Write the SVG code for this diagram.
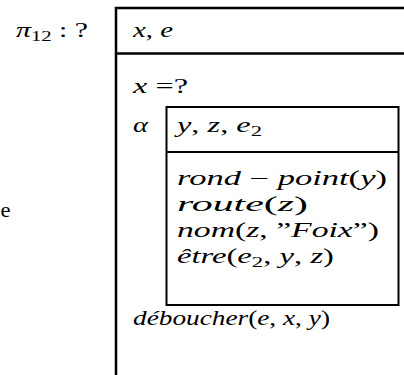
<svg xmlns="http://www.w3.org/2000/svg" width="404" height="375" viewBox="0 0 404 375">
<style>
.t{font-family:"Liberation Serif","Times New Roman",serif;font-size:20px;fill:#000}
.i{font-style:italic}
.s{font-size:14px}
.ln{stroke:#000;fill:none}
</style>
<rect width="404" height="375" fill="#fff"/>
<g id="outer-box">
<path class="ln" stroke-width="2.5" d="M116 375V8H404M116 53.5H404"/>
</g>
<g id="inner-box">
<rect class="ln" stroke-width="2" x="166.5" y="107" width="232" height="198"/>
<path class="ln" stroke-width="2" d="M166.5 152H398.5"/>
</g>
<g id="labels">
<text class="t" x="16" y="37" textLength="72" lengthAdjust="spacingAndGlyphs"><tspan class="i">π</tspan><tspan class="s" dy="4">12</tspan><tspan dy="-4"> : ?</tspan></text>
<text class="t" x="0.5" y="217" font-size="24" textLength="10" lengthAdjust="spacingAndGlyphs">e</text>
<text class="t" x="133" y="37" textLength="40" lengthAdjust="spacingAndGlyphs"><tspan class="i">x</tspan>, <tspan class="i">e</tspan></text>
<text class="t" x="133" y="93" textLength="55" lengthAdjust="spacingAndGlyphs"><tspan class="i">x</tspan> =?</text>
<text class="t i" x="133" y="132" textLength="15" lengthAdjust="spacingAndGlyphs">α</text>
<text class="t" x="177" y="132" textLength="85" lengthAdjust="spacingAndGlyphs"><tspan class="i">y</tspan>, <tspan class="i">z</tspan>, <tspan class="i">e</tspan><tspan class="s" dy="4">2</tspan></text>
<text class="t" x="177" y="185" textLength="210" lengthAdjust="spacingAndGlyphs"><tspan class="i">rond</tspan> − <tspan class="i">point</tspan>(<tspan class="i">y</tspan>)</text>
<text class="t" x="177" y="211" textLength="131" lengthAdjust="spacingAndGlyphs"><tspan class="i">route</tspan>(<tspan class="i">z</tspan>)</text>
<text class="t" x="177" y="237" textLength="202" lengthAdjust="spacingAndGlyphs"><tspan class="i">nom</tspan>(<tspan class="i">z</tspan>, ”<tspan class="i">Foix</tspan>”)</text>
<text class="t" x="177" y="263" textLength="157" lengthAdjust="spacingAndGlyphs"><tspan class="i">être</tspan>(<tspan class="i">e</tspan><tspan class="s" dy="4">2</tspan><tspan dy="-4">, </tspan><tspan class="i">y</tspan>, <tspan class="i">z</tspan>)</text>
<text class="t" x="133" y="325" textLength="197" lengthAdjust="spacingAndGlyphs"><tspan class="i">déboucher</tspan>(<tspan class="i">e</tspan>, <tspan class="i">x</tspan>, <tspan class="i">y</tspan>)</text>
</g>
</svg>
